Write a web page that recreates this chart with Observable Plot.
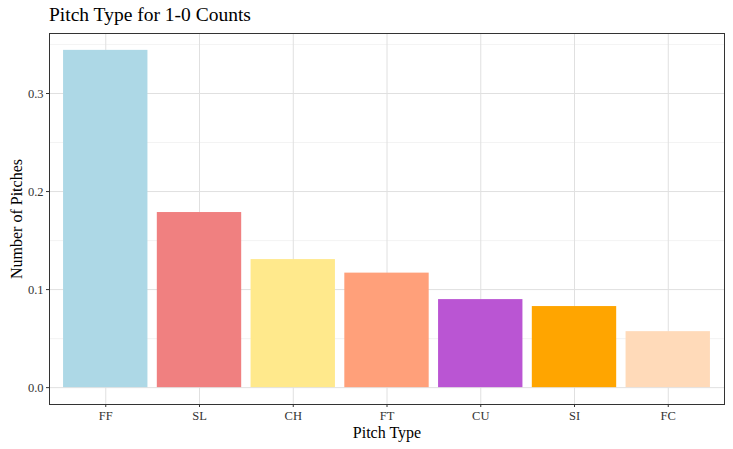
<!DOCTYPE html>
<html>
<head>
<meta charset="utf-8">
<script src="https://cdn.jsdelivr.net/npm/d3@7"></script>
<script src="https://cdn.jsdelivr.net/npm/@observablehq/plot@0.6"></script>
<style>
  body { margin: 0; background: #fff; }
  #wrap { position: relative; width: 733px; height: 449px; }
  #title { position: absolute; left: 49px; top: 4px; font-family: "Liberation Serif", serif; font-size: 19.5px; color: #000; }
</style>
</head>
<body>
<div id="wrap"><div id="title">Pitch Type for 1-0 Counts</div></div>
<script>
const pitchTypes = ["FF", "SL", "CH", "FT", "CU", "SI", "FC"];
const shares = [0.344, 0.1786, 0.1306, 0.1168, 0.0898, 0.0827, 0.0571];
const colors = ["#ADD8E6", "#F08080", "#FFE98C", "#FFA07A", "#BA55D3", "#FFA500", "#FFDAB9"];
const majorTicks = [0, 0.1, 0.2, 0.3];
const minorTicks = [0.05, 0.15, 0.25, 0.35];

const data = pitchTypes.map((p, i) => ({type: p, value: shares[i]}));

const chart = Plot.plot({
  width: 733,
  height: 449,
  marginLeft: 49,
  marginRight: 9,
  marginTop: 33,
  marginBottom: 45,
  style: {fontFamily: "Liberation Serif, serif", fontSize: "12px", color: "#333"},
  x: {domain: pitchTypes, paddingInner: 0.1, paddingOuter: 0.15, round: false, label: null},
  y: {domain: [-0.0172, 0.3612], label: null},
  color: {domain: pitchTypes, range: colors},
  marks: [
    Plot.gridY(minorTicks, {stroke: "#EBEBEB", strokeOpacity: 1, strokeWidth: 0.6}),
    Plot.gridY(majorTicks, {stroke: "#E0E0E0", strokeOpacity: 1, strokeWidth: 1}),
    Plot.gridX(pitchTypes, {stroke: "#E0E0E0", strokeOpacity: 1, strokeWidth: 1}),
    Plot.barY(data, {x: "type", y: "value", fill: "type"}),
    Plot.frame({stroke: "#333", strokeWidth: 1}),
    Plot.axisY(majorTicks, {tickSize: 3, tickPadding: 3, tickFormat: d3.format(".1f"), fill: "#333", stroke: "#333", fontSize: 12.5,
      label: "Number of Pitches", labelAnchor: "center", labelArrow: "none", labelOffset: 39}),
    Plot.axisX({tickSize: 3, tickPadding: 4, fill: "#333", stroke: "#333", fontSize: 12.5,
      label: "Pitch Type", labelAnchor: "center", labelArrow: "none", labelOffset: 33})
  ]
});
document.getElementById("wrap").appendChild(chart);
// style axis titles
chart.querySelectorAll("[aria-label='y-axis label'] text, [aria-label='x-axis label'] text").forEach(t => {
  t.setAttribute("font-size", "16");
  t.setAttribute("fill", "#000");
});
</script>
</body>
</html>
